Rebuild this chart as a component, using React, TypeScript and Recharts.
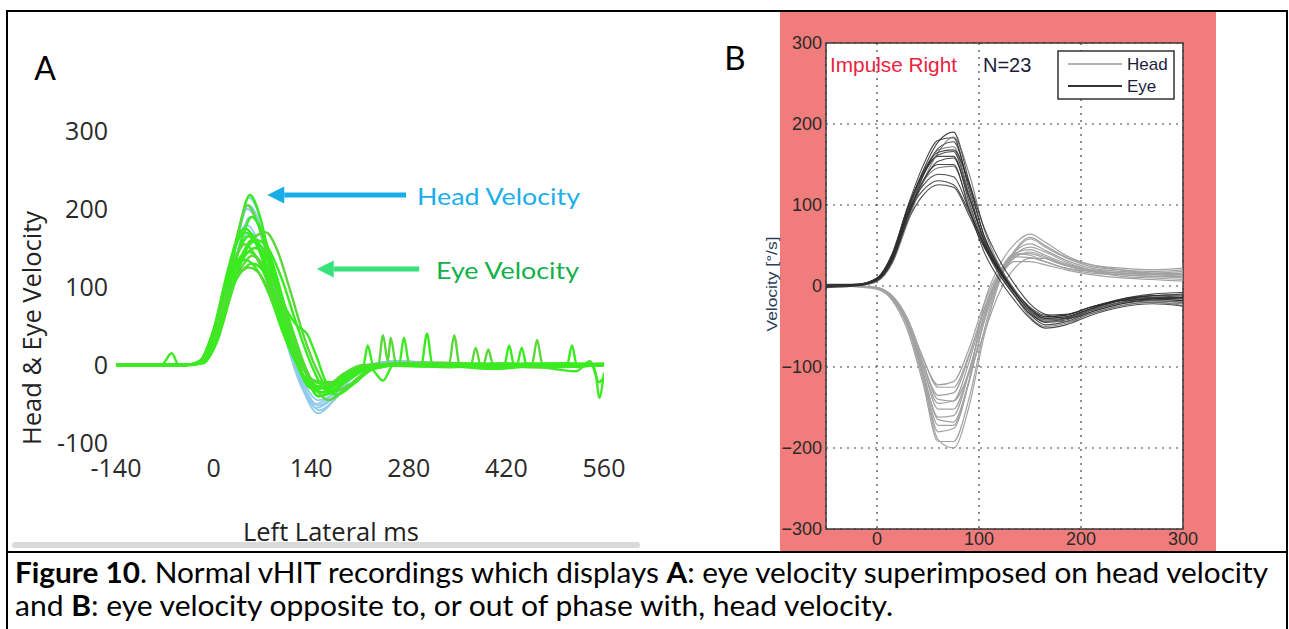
import React from 'react';
import { LineChart, Line, XAxis, YAxis, CartesianGrid, ReferenceArea, ReferenceLine } from 'recharts';

type Pt = [number, number];

// ---- Panel A: head (blue) and eye (green) velocity traces, [ms, deg/s] ----
const headA1: Pt[] = [[-140, 0], [-40, 0], [-20, 3], [0, 32], [20, 100], [35, 165], [50, 215], [62, 200], [78, 145], [95, 80], [112, 20], [130, -35], [150, -62], [170, -48], [195, -20], [225, 0], [260, 5], [320, 2], [400, 0], [480, 1], [560, 0]];
const headA2: Pt[] = [[-140, 0], [-40, 0], [-20, 4], [0, 36], [20, 105], [35, 165], [48, 200], [60, 188], [76, 140], [93, 78], [110, 20], [128, -30], [148, -55], [168, -45], [193, -18], [222, 0], [258, 4], [330, 1], [410, 0], [490, 2], [560, 0]];
const headA3: Pt[] = [[-140, 0], [-40, 0], [-20, 2], [0, 28], [20, 92], [38, 158], [52, 190], [65, 178], [80, 132], [97, 72], [114, 14], [132, -35], [152, -58], [172, -46], [197, -18], [226, 0], [262, 5], [340, 2], [420, 0], [500, 1], [560, 0]];
const headA4: Pt[] = [[-140, 0], [-40, 0], [-20, 4], [0, 38], [20, 108], [35, 160], [46, 180], [58, 170], [74, 128], [92, 70], [108, 18], [126, -28], [145, -50], [165, -42], [190, -16], [220, 0], [255, 4], [320, 0], [400, 2], [480, 0], [560, 1]];
const headA5: Pt[] = [[-140, 0], [-40, 0], [-20, 3], [0, 34], [20, 102], [36, 168], [50, 205], [63, 190], [79, 140], [96, 76], [113, 18], [131, -25], [150, -45], [170, -38], [195, -14], [224, 0], [260, 4], [340, 0], [420, 1], [500, 0], [560, 0]];
const headA6: Pt[] = [[-140, 0], [-40, 0], [-20, 3], [0, 30], [20, 95], [38, 150], [50, 170], [63, 160], [79, 120], [96, 66], [113, 12], [131, -30], [150, -52], [170, -42], [195, -16], [224, 0], [260, 5], [330, 2], [410, 0], [490, 1], [560, 0]];

const eyeA1: Pt[] = [[-140, 0], [-40, 0], [-20, 3], [0, 30], [20, 100], [38, 180], [52, 218], [65, 195], [80, 140], [100, 70], [115, 20], [130, -15], [150, -30], [175, -20], [205, -5], [215, 0], [221, 25], [229, 0], [300, 2], [400, 0], [500, 2], [560, 0]];
const eyeA2: Pt[] = [[-140, 0], [-40, 0], [-20, 4], [0, 38], [20, 110], [35, 170], [48, 205], [62, 185], [80, 130], [100, 60], [118, 10], [135, -25], [155, -35], [180, -22], [210, -6], [236, -2], [243, 38], [250, 5], [254, 35], [262, 0], [300, 0], [338, 2], [345, 38], [353, 0], [400, 0], [457, 2], [464, 32], [472, 0], [560, 2]];
const eyeA3: Pt[] = [[-140, 0], [-40, 0], [-20, 2], [0, 28], [20, 90], [40, 160], [55, 190], [70, 170], [90, 115], [110, 50], [128, 0], [150, -40], [175, -30], [200, -10], [230, 0], [266, 0], [273, 35], [281, 0], [330, -2], [417, 0], [424, 25], [431, 0], [500, 0], [540, 2], [548, -10], [553, -42], [560, -10]];
const eyeA4: Pt[] = [[-140, 0], [-75, 0], [-60, 15], [-50, 0], [-30, 0], [-15, 5], [0, 45], [20, 120], [35, 165], [45, 175], [60, 160], [80, 110], [100, 50], [120, 0], [140, -30], [165, -28], [195, -10], [230, 0], [298, 0], [306, 40], [314, 0], [380, -3], [450, 0], [507, 0], [514, 25], [521, 0], [560, 0]];
const eyeA5: Pt[] = [[-140, 0], [-40, 0], [-15, 3], [5, 30], [25, 90], [45, 145], [60, 165], [75, 170], [90, 150], [110, 95], [130, 35], [150, -10], [170, -35], [195, -25], [225, -5], [260, 0], [320, 0], [369, 0], [376, 22], [383, 0], [387, 0], [394, 20], [401, 0], [470, -3], [560, 0]];
const eyeA6: Pt[] = [[-140, 0], [-40, 0], [-20, 4], [0, 35], [20, 100], [38, 150], [50, 165], [65, 150], [85, 110], [105, 70], [120, 50], [134, 40], [148, 10], [165, -25], [190, -20], [220, -5], [260, 0], [350, 2], [435, 0], [442, 22], [449, 0], [560, 0]];
const eyeA7: Pt[] = [[-140, 0], [-40, 0], [-20, 2], [0, 30], [20, 95], [40, 140], [55, 160], [70, 150], [90, 105], [110, 45], [130, -5], [150, -40], [170, -35], [195, -18], [225, -5], [243, -20], [258, 0], [320, 0], [400, -5], [480, 0], [560, 0]];
const eyeA8: Pt[] = [[-140, 0], [-40, 0], [-20, 5], [0, 45], [20, 115], [35, 145], [45, 155], [60, 140], [80, 100], [100, 45], [120, 0], [140, -28], [160, -30], [185, -15], [215, -3], [260, 0], [340, -3], [420, 2], [500, -2], [560, 0]];
const eyeA9: Pt[] = [[-140, 0], [-40, 0], [-15, 3], [5, 35], [25, 100], [45, 140], [60, 150], [75, 138], [95, 95], [115, 40], [135, -10], [155, -35], [175, -30], [200, -12], [230, 0], [280, 2], [360, -2], [440, 0], [520, -8], [540, 5], [553, -22], [560, -15]];
const eyeA10: Pt[] = [[-140, 0], [-40, 0], [-20, 4], [0, 40], [20, 105], [38, 138], [50, 145], [65, 135], [85, 95], [105, 40], [125, 0], [145, -20], [170, -22], [200, -8], [240, 0], [320, 2], [400, 0], [480, -2], [560, 0]];
const eyeA11: Pt[] = [[-140, 0], [-40, 0], [-20, 2], [0, 25], [20, 85], [40, 125], [55, 140], [70, 130], [90, 95], [110, 45], [130, 0], [150, -35], [165, -45], [190, -30], [220, -8], [260, 0], [330, 3], [410, -3], [490, 0], [560, 0]];
const eyeA12: Pt[] = [[-140, 0], [-40, 0], [-20, 5], [0, 45], [20, 108], [35, 130], [45, 135], [60, 125], [80, 90], [100, 40], [120, 0], [140, -25], [160, -28], [185, -12], [215, 0], [290, 0], [370, 2], [450, -2], [560, 0]];
const eyeA13: Pt[] = [[-140, 0], [-40, 0], [-15, 3], [5, 38], [25, 95], [42, 122], [55, 130], [70, 122], [90, 85], [110, 35], [130, -5], [150, -30], [170, -28], [195, -12], [225, 0], [300, -2], [380, 0], [460, 2], [560, 0]];
const eyeA14: Pt[] = [[-140, 0], [-40, 0], [-20, 4], [0, 38], [20, 95], [38, 118], [50, 125], [65, 118], [85, 85], [105, 38], [125, 0], [145, -22], [165, -25], [190, -10], [220, 0], [300, 3], [390, 0], [470, -3], [560, 0]];
const eyeA15: Pt[] = [[-140, 0], [-40, 0], [-20, 5], [0, 42], [20, 115], [35, 160], [45, 170], [58, 160], [78, 115], [98, 55], [118, 5], [138, -28], [158, -35], [180, -20], [210, -5], [250, 0], [330, 0], [410, 2], [490, -2], [560, 0]];
const eyeA16: Pt[] = [[-140, 0], [-40, 0], [-15, 2], [5, 32], [25, 95], [45, 145], [62, 160], [78, 150], [98, 110], [118, 55], [138, 5], [158, -30], [178, -38], [200, -25], [230, -5], [270, 0], [350, 0], [430, -2], [510, 2], [560, 0]];

const headTracesA = [headA1, headA2, headA3, headA4, headA5, headA6];
const eyeTracesA = [eyeA1, eyeA2, eyeA3, eyeA4, eyeA5, eyeA6, eyeA7, eyeA8, eyeA9, eyeA10, eyeA11, eyeA12, eyeA13, eyeA14, eyeA15, eyeA16];
const aTicksX = [-140, 0, 140, 280, 420, 560];
const aTicksY = [-100, 0, 100, 200, 300];

// ---- Panel B: impulse right, N=23, head (light) and eye (dark) ----
const bTime = [-50, -20, 0, 15, 30, 45, 60, 75, 90, 105, 120, 135, 150, 165, 185, 210, 240, 270, 300];

const eyeB1 = [0, 1, 8, 36, 92, 142, 178, 190, 130, 62, 22, -8, -32, -45, -42, -30, -20, -16, -18];
const eyeB2 = [1, 2, 10, 40, 98, 148, 180, 183, 120, 55, 18, -12, -35, -48, -44, -32, -22, -18, -20];
const eyeB3 = [-1, 1, 7, 32, 85, 135, 170, 178, 125, 62, 24, -5, -28, -40, -38, -28, -18, -12, -14];
const eyeB4 = [0, 2, 9, 38, 94, 140, 168, 172, 115, 52, 15, -12, -38, -50, -46, -34, -24, -20, -22];
const eyeB5 = [0, 1, 8, 35, 90, 136, 162, 166, 112, 56, 20, -8, -30, -42, -40, -30, -20, -15, -16];
const eyeB6 = [2, 2, 10, 40, 96, 138, 160, 160, 105, 50, 14, -12, -34, -44, -40, -28, -16, -10, -8];
const eyeB7 = [0, 1, 7, 30, 82, 128, 154, 158, 110, 58, 22, -6, -28, -38, -36, -26, -17, -12, -12];
const eyeB8 = [0, 1, 8, 34, 88, 128, 146, 148, 100, 50, 16, -10, -32, -42, -40, -30, -20, -18, -20];
const eyeB9 = [1, 2, 9, 36, 90, 124, 138, 135, 95, 50, 18, -8, -30, -40, -38, -28, -18, -14, -15];
const eyeB10 = [0, 1, 8, 35, 88, 118, 130, 125, 92, 52, 20, -6, -26, -36, -35, -26, -16, -12, -10];
const eyeB11 = [-2, 0, 6, 30, 80, 112, 125, 122, 88, 48, 18, -8, -28, -38, -36, -26, -18, -16, -18];
const eyeB12 = [0, 1, 6, 28, 78, 128, 165, 184, 140, 70, 25, -5, -30, -44, -44, -34, -24, -20, -24];
const eyeB13 = [0, 1, 9, 38, 95, 140, 165, 168, 128, 72, 32, 2, -22, -35, -40, -32, -22, -16, -14];
const eyeB14 = [0, 1, 7, 33, 86, 130, 150, 150, 96, 42, 8, -18, -40, -52, -48, -36, -26, -22, -25];

const headB1 = [0, 0, -3, -16, -50, -115, -190, -200, -150, -62, 5, 42, 58, 48, 35, 24, 20, 18, 20];
const headB2 = [0, -1, -4, -18, -55, -120, -192, -192, -140, -55, 8, 44, 60, 50, 36, 26, 22, 20, 22];
const headB3 = [0, 0, -3, -15, -48, -110, -180, -176, -118, -22, 25, 52, 64, 54, 38, 26, 20, 16, 15];
const headB4 = [1, 0, -3, -16, -50, -110, -172, -172, -120, -42, 12, 42, 52, 44, 32, 22, 18, 15, 14];
const headB5 = [0, 0, -2, -14, -45, -105, -165, -168, -118, -45, 8, 38, 48, 42, 30, 20, 16, 14, 12];
const headB6 = [0, 0, -3, -15, -48, -108, -162, -160, -108, -35, 15, 40, 45, 38, 28, 20, 18, 16, 18];
const headB7 = [0, 0, -2, -14, -44, -100, -152, -152, -105, -38, 10, 35, 42, 36, 26, 18, 14, 12, 10];
const headB8 = [0, 0, -3, -15, -46, -100, -145, -142, -95, -30, 15, 38, 40, 34, 25, 18, 16, 15, 16];
const headB9 = [0, 0, -2, -13, -42, -95, -140, -142, -108, -58, -8, 22, 34, 34, 26, 18, 12, 10, 8];
const headB10 = [0, 0, -3, -15, -45, -95, -135, -132, -88, -28, 14, 36, 35, 30, 22, 16, 14, 12, 12];
const headB11 = [0, 0, -2, -12, -40, -88, -125, -125, -85, -30, 10, 30, 30, 26, 20, 14, 10, 8, 6];
const headB12 = [0, 0, -3, -14, -44, -90, -122, -118, -78, -22, 18, 40, 38, 30, 22, 18, 16, 14, 14];

const headTracesB = [headB1, headB2, headB3, headB4, headB5, headB6, headB7, headB8, headB9, headB10, headB11, headB12];
const eyeTracesB = [eyeB1, eyeB2, eyeB3, eyeB4, eyeB5, eyeB6, eyeB7, eyeB8, eyeB9, eyeB10, eyeB11, eyeB12, eyeB13, eyeB14];
const bTicksX = [0, 100, 200, 300];
const bTicksY = [-300, -200, -100, 0, 100, 200, 300];

const toRows = (pts: Pt[]) => pts.map(([t, v]) => ({ t, v }));
const onGrid = (vals: number[]) => bTime.map((t, i) => ({ t, v: vals[i] }));

const arrow = (color: string) => (p: any) => {
  const { x1, y1, x2, y2 } = p;
  const len = Math.hypot(x2 - x1, y2 - y1) || 1;
  const ux = (x2 - x1) / len;
  const uy = (y2 - y1) / len;
  const bx = x2 - ux * 17;
  const by = y2 - uy * 17;
  return (
    <g>
      <line x1={x1} y1={y1} x2={bx} y2={by} stroke={color} strokeWidth={5} />
      <polygon points={`${x2},${y2} ${bx - uy * 8.5},${by + ux * 8.5} ${bx + uy * 8.5},${by - ux * 8.5}`} fill={color} />
    </g>
  );
};

const PanelA = () => (
  <div style={{ position: 'absolute', left: 0, top: 0 }}>
    <LineChart width={660} height={560} margin={{ top: 131, right: 56, bottom: 87, left: 56 }}>
      <XAxis
        type="number"
        dataKey="t"
        domain={[-140, 560]}
        ticks={aTicksX}
        interval={0}
        allowDataOverflow
        axisLine={false}
        tickLine={false}
        tickMargin={10}
        tick={{ fontSize: 25, fill: '#2a2a2a', fontFamily: 'Open Sans' }}
      />
      <YAxis
        type="number"
        width={60}
        domain={[-100, 300]}
        ticks={aTicksY}
        interval={0}
        allowDataOverflow
        axisLine={false}
        tickLine={false}
        tick={{ fontSize: 25, fill: '#2a2a2a', fontFamily: 'Open Sans' }}
      />
      {headTracesA.map((tr, i) => (
        <Line key={'h' + i} data={toRows(tr)} dataKey="v" type="monotone" stroke="#8fcbec" strokeWidth={1.8} dot={false} activeDot={false} isAnimationActive={false} />
      ))}
      {eyeTracesA.map((tr, i) => (
        <Line key={'e' + i} data={toRows(tr)} dataKey="v" type="monotone" stroke={i % 3 === 1 ? '#5ad83a' : '#38ec1e'} strokeWidth={2.4} dot={false} activeDot={false} isAnimationActive={false} />
      ))}
      <ReferenceLine segment={[{ x: 276, y: 218 }, { x: 77, y: 218 }]} shape={arrow('#17ade9')} />
      <ReferenceLine segment={[{ x: 295, y: 123 }, { x: 148, y: 123 }]} shape={arrow('#37e27c')} />
    </LineChart>
  </div>
);

const fmtB = (v: number) => (v < 0 ? '\u2212' + Math.abs(v) : String(v));

const PanelB = () => (
  <div style={{ position: 'absolute', left: 780, top: 12, width: 436, height: 540, background: '#f17c7c', overflow: 'hidden' }}>
    <LineChart width={436} height={560} margin={{ top: 31, right: 33, bottom: 13, left: 0 }}>
      <CartesianGrid fill="#ffffff" stroke="#444" strokeDasharray="2 5" strokeWidth={1.2} />
      <ReferenceArea x1={-50} x2={300} y1={-300} y2={300} fill="none" stroke="#3a3a3a" strokeWidth={1.5} />
      <XAxis
        type="number"
        dataKey="t"
        domain={[-50, 300]}
        ticks={bTicksX}
        interval={0}
        allowDataOverflow
        axisLine={false}
        tickLine={false}
        tickSize={3}
        tickMargin={0}
        tick={{ fontSize: 18, fill: '#2a2a2a', fontFamily: 'Liberation Sans' }}
      />
      <YAxis
        type="number"
        width={46}
        domain={[-300, 300]}
        ticks={bTicksY}
        interval={0}
        allowDataOverflow
        axisLine={false}
        tickLine={false}
        tickSize={2}
        tickMargin={2}
        tickFormatter={fmtB}
        tick={{ fontSize: 18, fill: '#2a2a2a', fontFamily: 'Liberation Sans' }}
      />
      {headTracesB.map((tr, i) => (
        <Line key={'h' + i} data={onGrid(tr)} dataKey="v" type="monotone" stroke="#a2a2a2" strokeWidth={1.2} dot={false} activeDot={false} isAnimationActive={false} />
      ))}
      {eyeTracesB.map((tr, i) => (
        <Line key={'e' + i} data={onGrid(tr)} dataKey="v" type="monotone" stroke={i % 4 === 3 ? '#6a6a6a' : '#2c2c2c'} strokeWidth={1.1} strokeOpacity={0.85} dot={false} activeDot={false} isAnimationActive={false} />
      ))}
    </LineChart>
  </div>
);

const Overlay = () => (
  <svg width={1289} height={629} style={{ position: 'absolute', left: 0, top: 0, pointerEvents: 'none' }}>
    {/* table borders */}
    <line x1={6} y1={11} x2={1288} y2={11} stroke="#000" strokeWidth={2} />
    <line x1={7} y1={10} x2={7} y2={629} stroke="#000" strokeWidth={2} />
    <line x1={1287} y1={10} x2={1287} y2={629} stroke="#000" strokeWidth={2} />
    <line x1={6} y1={552} x2={1288} y2={552} stroke="#000" strokeWidth={2} />
    <rect x={12} y={542} width={628} height={6} rx={3} fill="#d9d9d9" />

    {/* panel A labels */}
    <text x={45} y={80} textAnchor="middle" fontFamily="Lato" fontSize={32} fill="#000">A</text>
    <text x={31} y={328} textAnchor="middle" dominantBaseline="central" transform="rotate(-90 31 328)" fontFamily="Open Sans" fontSize={26} fill="#222" textLength={234} lengthAdjust="spacingAndGlyphs">Head &amp; Eye Velocity</text>
    <text x={331} y={541} textAnchor="middle" fontFamily="Open Sans" fontSize={25} fill="#222" textLength={176} lengthAdjust="spacingAndGlyphs">Left Lateral ms</text>
    <text x={417} y={205} fontFamily="Lato" fontSize={24} fill="#1aaeea" textLength={163} lengthAdjust="spacingAndGlyphs">Head Velocity</text>
    <text x={436} y={279} fontFamily="Lato" fontSize={24} fill="#12b04a" textLength={143} lengthAdjust="spacingAndGlyphs">Eye Velocity</text>

    {/* panel B labels */}
    <text x={735} y={70} textAnchor="middle" fontFamily="Lato" fontSize={33} fill="#000">B</text>
    <text x={771} y={284} textAnchor="middle" dominantBaseline="central" transform="rotate(-90 771 284)" fontFamily="Liberation Sans" fontSize={15} fill="#2c3e5c" textLength={95} lengthAdjust="spacingAndGlyphs">Velocity [°/s]</text>
    <text x={830} y={72} fontFamily="Liberation Sans" fontSize={20} fill="#ea2340" textLength={127} lengthAdjust="spacingAndGlyphs">Impulse Right</text>
    <text x={983} y={72} fontFamily="Liberation Sans" fontSize={20} fill="#1c1c3c">N=23</text>
    <rect x={1058} y={51} width={116} height={48} fill="#fff" stroke="#333" strokeWidth={1.5} />
    <line x1={1068} y1={64} x2={1122} y2={64} stroke="#9a9a9a" strokeWidth={1.3} />
    <line x1={1068} y1={86} x2={1122} y2={86} stroke="#333" strokeWidth={2} />
    <text x={1127} y={70} fontFamily="Liberation Sans" fontSize={17} fill="#1c1c3c">Head</text>
    <text x={1127} y={92} fontFamily="Liberation Sans" fontSize={17} fill="#1c1c3c">Eye</text>

    {/* caption */}
    <text x={15} y={583} fontFamily="Lato" fontSize={28} fill="#000" textLength={1253} lengthAdjust="spacingAndGlyphs">
      <tspan fontWeight="bold">Figure 10</tspan>. Normal vHIT recordings which displays <tspan fontWeight="bold">A</tspan>: eye velocity superimposed on head velocity
    </text>
    <text x={15} y={616} fontFamily="Lato" fontSize={28} fill="#000" textLength={878} lengthAdjust="spacingAndGlyphs">
      and <tspan fontWeight="bold">B</tspan>: eye velocity opposite to, or out of phase with, head velocity.
    </text>
  </svg>
);

export default function App() {
  return (
    <div style={{ position: 'absolute', left: 0, top: 0, width: 1289, height: 629, background: '#fff', overflow: 'hidden' }}>
      <PanelA />
      <PanelB />
      <Overlay />
    </div>
  );
}
